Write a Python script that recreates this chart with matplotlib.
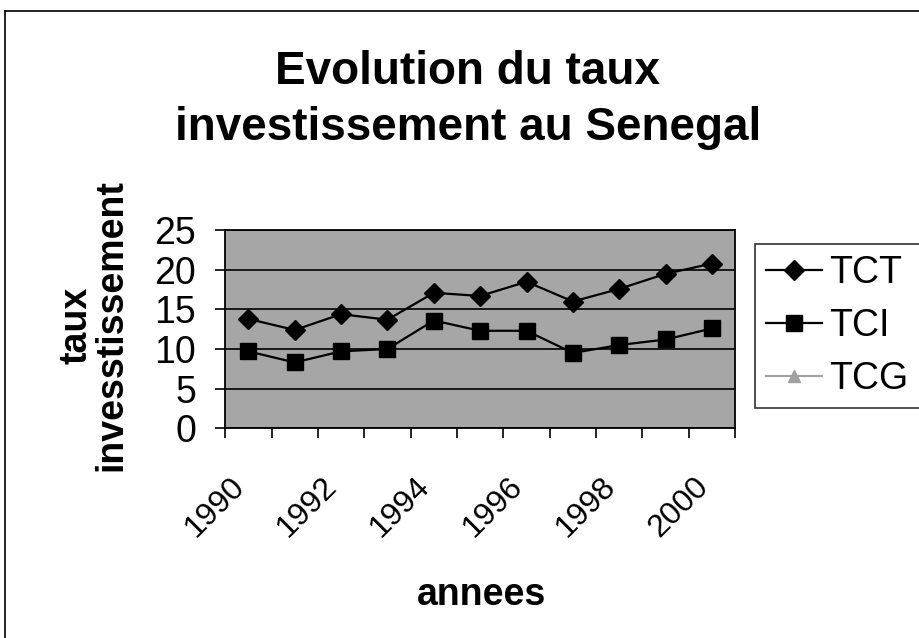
import numpy as np
import matplotlib.pyplot as plt
import matplotlib.transforms as mtransforms
from matplotlib.lines import Line2D

plt.rcParams['font.family'] = ['Liberation Sans', 'DejaVu Sans']

# data
years = [1990, 1991, 1992, 1993, 1994, 1995, 1996, 1997, 1998, 1999, 2000]
tct = [13.8, 12.4, 14.4, 13.7, 17.1, 16.7, 18.5, 16.0, 17.6, 19.5, 20.8]
tci = [9.7, 8.3, 9.7, 10.0, 13.6, 12.3, 12.3, 9.5, 10.5, 11.2, 12.6]
tcg = []  # empty series, only in legend
yticks = [0, 5, 10, 15, 20, 25]
label_years = [str(y) for y in years[::2]]

fig = plt.figure(figsize=(9.19, 6.38), dpi=100)
ax = fig.add_axes([0.245, 0.329, 0.555, 0.31])
ax.set_facecolor('#a6a6a6')

x = np.arange(len(years))
ax.plot(x, tct, color='black', lw=1.6, marker='D', ms=10, label='TCT')
ax.plot(x, tci, color='black', lw=1.6, marker='s', ms=11, label='TCI')
ax.plot(tcg, tcg, color='#a0a0a0', lw=1.5, marker='^', ms=9, label='TCG')

ax.set_xlim(-0.5, len(years) - 0.5)
ax.set_ylim(0, 25)
ax.set_yticks(yticks)
ax.yaxis.grid(True, color='black', lw=1.2)
ax.set_axisbelow(True)

# ticks between categories, labels on every other category
ax.set_xticks(np.arange(-0.5, len(years), 1.0))
ax.set_xticklabels([])
ax.set_xticks(x[::2], minor=True)
ax.set_xticklabels(label_years, minor=True, rotation=45, ha='right',
                   rotation_mode='anchor', fontsize=23)
ax.tick_params(axis='x', which='major', length=7, width=1.2, direction='out')
ax.tick_params(axis='x', which='minor', length=0, pad=0)
shift = mtransforms.ScaledTranslation(-0.19, -0.43, fig.dpi_scale_trans)
for lab in ax.get_xticklabels(minor=True):
    lab.set_transform(lab.get_transform() + shift)
ax.tick_params(axis='y', labelsize=27, length=7, width=1.2, pad=14)
for s in ax.spines.values():
    s.set_linewidth(1.3)

fig.text(0.102, 0.49, 'taux\ninvesstissement', rotation=90, ha='center',
         va='center', fontsize=27, fontweight='bold', linespacing=0.95)
fig.text(0.524, 0.067, 'annees', ha='center', va='center', fontsize=27,
         fontweight='bold')
fig.text(0.509, 0.843, 'Evolution du taux\ninvestissement au Senegal',
         ha='center', va='center', fontsize=33, fontweight='bold',
         linespacing=1.35)

leg = ax.legend(loc='upper left', bbox_to_anchor=(1.038, 0.93), fontsize=27,
                frameon=True, fancybox=False, edgecolor='black',
                handlelength=1.5, handletextpad=0.2, borderpad=0.3,
                labelspacing=0.45, borderaxespad=0)
leg.get_frame().set_linewidth(1.2)

# outer chart border
fig.add_artist(Line2D([0.005, 1.0], [0.982, 0.982], color='black', lw=1.2))
fig.add_artist(Line2D([0.005, 0.005], [0.0, 0.982], color='black', lw=1.2))

plt.savefig('out.png', dpi=100)
